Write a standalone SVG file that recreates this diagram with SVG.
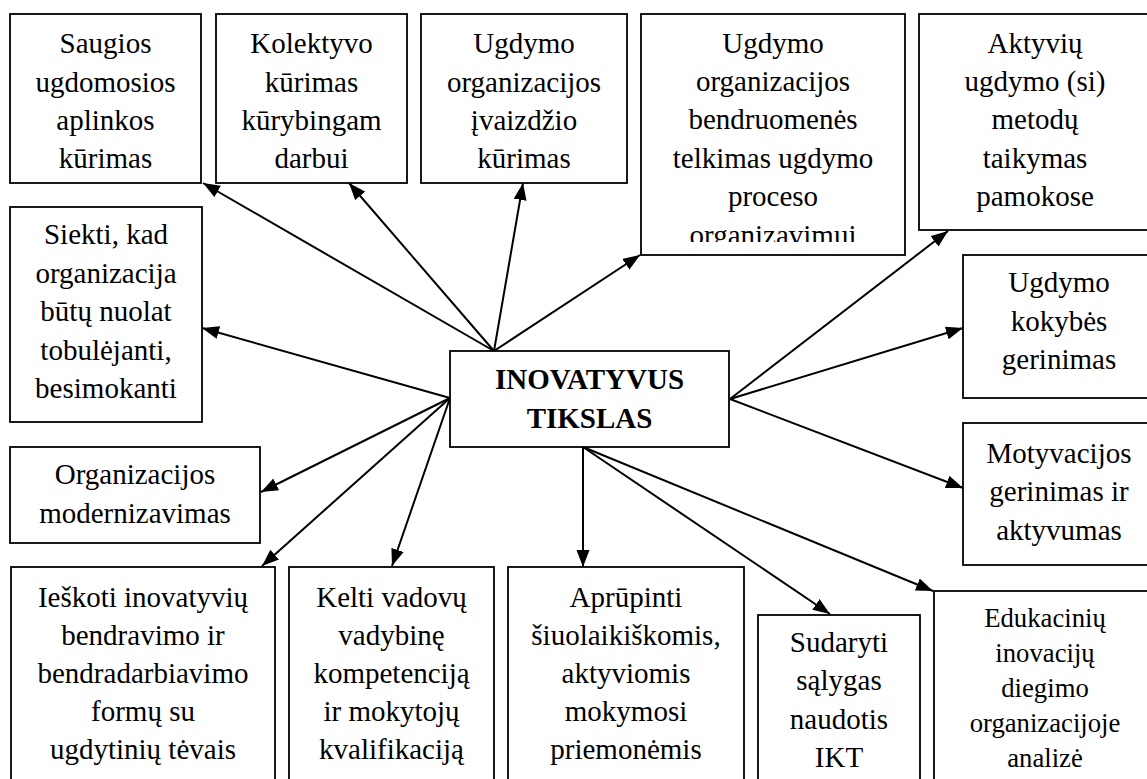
<svg xmlns="http://www.w3.org/2000/svg" width="1147" height="779" viewBox="0 0 1147 779">
  <style>
    .box { fill: #ffffff; stroke: #000000; stroke-width: 1.8; }
    .lbl { font-family: "Liberation Serif", "Times New Roman", serif; font-size: 29px; fill: #000000; text-anchor: middle; }
    .sm { font-size: 26.7px; }
    .bold { font-weight: bold; }
    .link { stroke: #000000; stroke-width: 2; fill: none; marker-end: url(#arrow); }
  </style>
  <defs>
    <marker id="arrow" markerUnits="userSpaceOnUse" markerWidth="18" markerHeight="14" refX="17" refY="6.5" orient="auto">
      <path d="M0,0 L17,6.5 L0,13 z" fill="#000000"/>
    </marker>
    <clipPath id="clip-telkimas">
      <rect x="641" y="14" width="264" height="228"/>
    </clipPath>
  </defs>
  <rect width="1147" height="779" fill="#ffffff"/>

  <!-- connectors: all start on the central goal box -->
  <g id="connectors">
    <line class="link" x1="494" y1="351" x2="203" y2="183"/>
    <line class="link" x1="494" y1="351" x2="349" y2="183"/>
    <line class="link" x1="494" y1="351" x2="523" y2="183"/>
    <line class="link" x1="494" y1="351" x2="640" y2="255"/>
    <line class="link" x1="730" y1="399" x2="948" y2="231"/>
    <line class="link" x1="730" y1="399" x2="963" y2="328"/>
    <line class="link" x1="730" y1="399" x2="963" y2="488"/>
    <line class="link" x1="583" y1="447" x2="583" y2="567"/>
    <line class="link" x1="583" y1="447" x2="830" y2="614"/>
    <line class="link" x1="583" y1="447" x2="933" y2="591"/>
    <line class="link" x1="450" y1="398" x2="202" y2="328"/>
    <line class="link" x1="450" y1="398" x2="261" y2="492"/>
    <line class="link" x1="450" y1="398" x2="262" y2="566"/>
    <line class="link" x1="450" y1="398" x2="392" y2="566"/>
  </g>

  <g id="node-saugios">
    <rect class="box" x="10" y="14" width="191" height="169"/>
    <text class="lbl" x="105.5" y="53">Saugios</text>
    <text class="lbl" x="105.5" y="91.5">ugdomosios</text>
    <text class="lbl" x="105.5" y="130">aplinkos</text>
    <text class="lbl" x="105.5" y="168">kūrimas</text>
  </g>

  <g id="node-kolektyvo">
    <rect class="box" x="216" y="14" width="191" height="169"/>
    <text class="lbl" x="311.5" y="53">Kolektyvo</text>
    <text class="lbl" x="311.5" y="91.5">kūrimas</text>
    <text class="lbl" x="311.5" y="130">kūrybingam</text>
    <text class="lbl" x="311.5" y="168">darbui</text>
  </g>

  <g id="node-ivaizdis">
    <rect class="box" x="421" y="14" width="206" height="169"/>
    <text class="lbl" x="524" y="53">Ugdymo</text>
    <text class="lbl" x="524" y="91.5">organizacijos</text>
    <text class="lbl" x="524" y="130">įvaizdžio</text>
    <text class="lbl" x="524" y="168">kūrimas</text>
  </g>

  <g id="node-bendruomene">
    <rect class="box" x="641" y="14" width="264" height="241"/>
    <g clip-path="url(#clip-telkimas)">
      <text class="lbl" x="773" y="53">Ugdymo</text>
      <text class="lbl" x="773" y="91">organizacijos</text>
      <text class="lbl" x="773" y="129">bendruomenės</text>
      <text class="lbl" x="773" y="167.5">telkimas ugdymo</text>
      <text class="lbl" x="773" y="205.5">proceso</text>
      <text class="lbl" x="773" y="245">organizavimui</text>
    </g>
  </g>

  <g id="node-aktyviu">
    <rect class="box" x="919" y="14" width="240" height="216"/>
    <text class="lbl" x="1035" y="53">Aktyvių</text>
    <text class="lbl" x="1035" y="91">ugdymo (si)</text>
    <text class="lbl" x="1035" y="129">metodų</text>
    <text class="lbl" x="1035" y="167.5">taikymas</text>
    <text class="lbl" x="1035" y="205.5">pamokose</text>
  </g>

  <g id="node-siekti">
    <rect class="box" x="10" y="207" width="192" height="215"/>
    <text class="lbl" x="106" y="244">Siekti, kad</text>
    <text class="lbl" x="106" y="283">organizacija</text>
    <text class="lbl" x="106" y="321">būtų nuolat</text>
    <text class="lbl" x="106" y="360">tobulėjanti,</text>
    <text class="lbl" x="106" y="398">besimokanti</text>
  </g>

  <g id="node-modernizavimas">
    <rect class="box" x="10" y="447" width="250" height="96"/>
    <text class="lbl" x="135" y="484">Organizacijos</text>
    <text class="lbl" x="135" y="523">modernizavimas</text>
  </g>

  <g id="node-tikslas">
    <rect class="box" x="450" y="351" width="279" height="96"/>
    <text class="lbl bold" x="589.5" y="389">INOVATYVUS</text>
    <text class="lbl bold" x="589.5" y="428">TIKSLAS</text>
  </g>

  <g id="node-kokybe">
    <rect class="box" x="963" y="255" width="200" height="143"/>
    <text class="lbl" x="1059" y="292">Ugdymo</text>
    <text class="lbl" x="1059" y="330.5">kokybės</text>
    <text class="lbl" x="1059" y="369">gerinimas</text>
  </g>

  <g id="node-motyvacija">
    <rect class="box" x="963" y="423" width="200" height="142"/>
    <text class="lbl" x="1059" y="463">Motyvacijos</text>
    <text class="lbl" x="1059" y="501">gerinimas ir</text>
    <text class="lbl" x="1059" y="539.5">aktyvumas</text>
  </g>

  <g id="node-ieskoti">
    <rect class="box" x="11" y="567" width="264" height="230"/>
    <text class="lbl" x="143" y="607">Ieškoti inovatyvių</text>
    <text class="lbl" x="143" y="645">bendravimo ir</text>
    <text class="lbl" x="143" y="683">bendradarbiavimo</text>
    <text class="lbl" x="143" y="721">formų su</text>
    <text class="lbl" x="143" y="759">ugdytinių tėvais</text>
  </g>

  <g id="node-kelti">
    <rect class="box" x="289" y="567" width="205" height="230"/>
    <text class="lbl" x="391.5" y="607">Kelti vadovų</text>
    <text class="lbl" x="391.5" y="645">vadybinę</text>
    <text class="lbl" x="391.5" y="683">kompetenciją</text>
    <text class="lbl" x="391.5" y="721">ir mokytojų</text>
    <text class="lbl" x="391.5" y="759">kvalifikaciją</text>
  </g>

  <g id="node-aprupinti">
    <rect class="box" x="508" y="567" width="236" height="230"/>
    <text class="lbl" x="626" y="607">Aprūpinti</text>
    <text class="lbl" x="626" y="645">šiuolaikiškomis,</text>
    <text class="lbl" x="626" y="683">aktyviomis</text>
    <text class="lbl" x="626" y="721">mokymosi</text>
    <text class="lbl" x="626" y="759">priemonėmis</text>
  </g>

  <g id="node-ikt">
    <rect class="box" x="758" y="615" width="162" height="200"/>
    <text class="lbl" x="839" y="652">Sudaryti</text>
    <text class="lbl" x="839" y="690">sąlygas</text>
    <text class="lbl" x="839" y="728.5">naudotis</text>
    <text class="lbl" x="839" y="767">IKT</text>
  </g>

  <g id="node-edukaciniu">
    <rect class="box" x="934" y="591" width="230" height="200"/>
    <text class="lbl sm" x="1045" y="627">Edukacinių</text>
    <text class="lbl sm" x="1045" y="662">inovacijų</text>
    <text class="lbl sm" x="1045" y="697">diegimo</text>
    <text class="lbl sm" x="1045" y="732">organizacijoje</text>
    <text class="lbl sm" x="1045" y="767">analizė</text>
  </g>
</svg>
